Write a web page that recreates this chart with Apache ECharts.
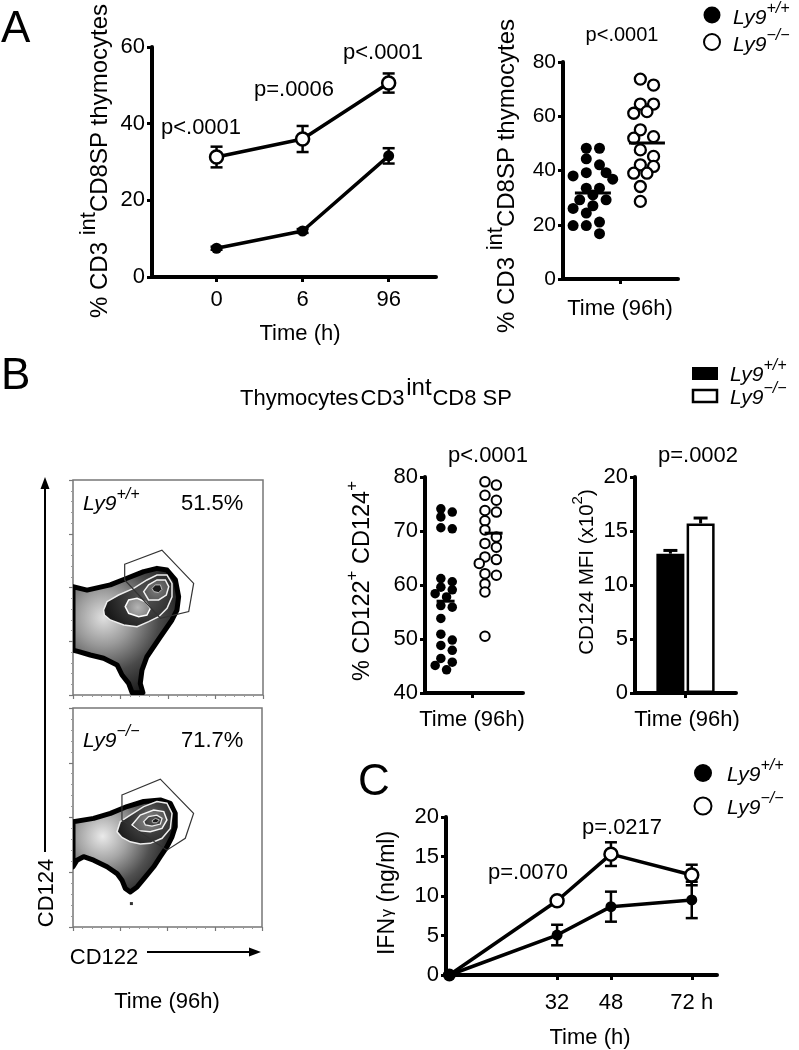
<!DOCTYPE html>
<html><head><meta charset="utf-8">
<script src="https://cdn.jsdelivr.net/npm/echarts@6/dist/echarts.min.js"></script>
<style>html,body{margin:0;padding:0;background:#fff}#c{width:799px;height:1050px}</style>
</head><body><div id="c"></div>
<script>
// ---------- DATA ----------
// Panel A left: % CD3int CD8SP thymocytes over time
const aTimeLabels = ['0', '6', '96'];
const aWTMean = [7.5, 12.0, 31.6];
const aWTErr = [0.4, 0.5, 2.0];
const aKOMean = [31.3, 36.0, 50.6];
const aKOErr = [2.7, 3.4, 2.5];
const aPValues = ['p<.0001', 'p=.0006', 'p<.0001'];
// Panel A right: individual mice at 96h
const a96WT = [48.2, 48.2, 44.3, 42.1, 39.2, 39.2, 38, 36.8, 33.5, 33.5, 31, 29.2, 29.2, 27, 26, 24.3, 21, 19.7, 19.7, 16.7];
const a96KO = [73.7, 71.5, 64.5, 64.5, 61.7, 61.1, 55, 52.5, 51.9, 47.6, 45.2, 42.1, 41.5, 39, 39, 34.1, 28.6];
const a96Means = [31.7, 50.1];
const a96P = 'p<.0001';
// Panel B scatter: % CD122+ CD124+
const bWT = [74.1, 73.5, 72.6, 70.6, 70.4, 61.2, 60.6, 59.6, 59.1, 58.4, 57.8, 56.2, 55.9, 53.8, 50.9, 49.8, 48.8, 47.9, 46.4, 45.7, 45.1, 44.3];
const bKO = [79.1, 78.5, 76.6, 75.7, 73.8, 73.5, 71.9, 70.2, 68.9, 67.7, 67.0, 65.2, 64.7, 64.0, 62.1, 61.8, 60.2, 58.7, 50.5];
const bMeans = [57.0, 69.6];
const bScatterP = 'p<.0001';
// Panel B bars: CD124 MFI (x10^2)
const bBarGroups = ['Ly9+/+', 'Ly9-/-'];
const bBarValues = [12.9, 15.7];
const bBarErr = [0.3, 0.5];
const bBarP = 'p=.0002';
// Panel B flow plots: percentages and contour outlines (plot units 0-100)
const flowPercents = ['51.5%', '71.7%'];
const flowTopBlob = [[0,50.4],[7.4,48.8],[19.6,51.2],[28.4,54.3],[37.2,57.4],[44.2,58.9],[49.5,58.1],[53.9,53.5],[55.6,45.7],[54.7,39.5],[52.1,34.9],[46,27.1],[38.9,17.8],[36.3,11.6],[35.4,5.4],[36.8,1.1],[31.1,1.1],[29.3,5.4],[25.8,9.3],[23.2,14],[16.1,17.1],[9.1,18.6],[3,20.2],[0,20.9]];
const flowTopRingA = [[16.1,39.5],[17.9,43.4],[24,46.5],[31.9,49.6],[38.9,53.5],[44.2,55.8],[49.5,55.8],[52.1,51.9],[52.1,45.7],[49.5,40.3],[45.1,36.4],[39.8,34.1],[33.7,31.8],[26.7,32.6],[19.6,34.9],[16.5,37.2]];
const flowTopRingB = [[27.5,41.1],[29.3,44.2],[33.7,45],[38.1,43.4],[40.7,40.3],[38.9,37.2],[34.6,36.4],[29.3,38]];
const flowTopRingC = [[37.2,48.1],[39.8,51.2],[44.2,53.5],[48.6,53.5],[50.4,50.4],[49.1,46.5],[45.1,44.2],[39.8,44.2]];
const flowTopRingD = [[41.6,49.6],[43.3,51.2],[46,51.2],[46.8,49.1],[45.1,47.6],[42.5,48.1]];
const flowTopGate = [[27.2,60.8],[46.8,67.4],[63.5,51.9],[60.9,38.8],[46,35.7],[27.2,53.5]];
const flowBotBlob = [[0,48.1],[10.9,49.6],[19.8,51.9],[28.6,55],[37.4,57.3],[46.2,58],[51.5,56.5],[54.1,51.9],[54.1,45.8],[52.4,41.2],[49.7,36.6],[46.2,32.1],[42.7,27.5],[38.3,22.9],[33.9,18.3],[30.3,16],[27.7,17.6],[25.9,21.4],[23.3,24.4],[18,27.5],[10.9,30.5],[5.6,32.1],[2.1,30.5],[0,27.5]];
const flowBotRingA = [[23.3,43.5],[25,48.1],[30.3,51.1],[37.4,55],[44.4,57.3],[49.7,56.5],[52.4,51.9],[51.5,45],[47.1,40.5],[40.9,38.2],[35.6,37.9],[30.3,38.9],[25.9,40.9]];
const flowBotRingB = [[31.2,46.6],[35.6,51.1],[42.7,53.4],[48,52.7],[49.7,48.9],[47.1,45],[40.9,43.5],[34.7,44]];
const flowBotRingC = [[37.4,48.1],[40,50.4],[44.4,51.1],[47.1,49.6],[46.2,47],[41.8,46.1],[38.3,46.6]];
const flowBotRingD = [[41.8,48.5],[43.6,49.6],[45.7,48.9],[44.4,47.6],[42.3,47.6]];
const flowBotGate = [[25.9,60.3],[46.2,67.5],[63.8,51.9],[59.4,40.5],[49.7,35.1],[25.9,48.9]];
const flowBotDots = [[30.9,10.7]];
// Panel C: IFN-gamma (ng/ml) over time
const cTimes = [0, 32, 48, 72];
const cTickValues = [32, 48, 72];
const cTickLabels = ['32', '48', '72 h'];
const cWTMean = [0, 5.06, 8.65, 9.5];
const cWTErr = [0, 1.3, 1.9, 2.3];
const cKOMean = [0, 9.4, 15.3, 12.66];
const cKOErr = [0, 0.3, 1.5, 1.3];
const cPValues = ['p=.0070', 'p=.0217'];

// ---------- HELPERS ----------
const FONT = '"Liberation Sans", Arial, Helvetica, sans-serif';
const mctx = document.createElement('canvas').getContext('2d');
function tw(t, s, it) { mctx.font = (it ? 'italic ' : '') + s + 'px ' + FONT; return mctx.measureText(t).width; }
// parts: [text, size, dy, italic]
function rt(x, y, parts, opt) {
  opt = opt || {};
  const total = parts.reduce((a, p) => a + tw(p[0], p[1], p[3]), 0);
  let cx = opt.align === 'left' ? 0 : (opt.align === 'right' ? -total : -total / 2);
  const children = parts.map(p => {
    const el = { type: 'text', x: cx, y: p[2] || 0, style: { text: p[0], fontSize: p[1], fontFamily: FONT, fontStyle: p[3] ? 'italic' : 'normal', fill: '#000', align: 'left', verticalAlign: 'middle' } };
    cx += tw(p[0], p[1], p[3]);
    return el;
  });
  return { type: 'group', x: x, y: y, rotation: opt.rot || 0, children: children };
}
const ROT = Math.PI / 2;

function yAx(gi, min, max, interval, fs) {
  return { type: 'value', gridIndex: gi, min: min, max: max, interval: interval,
    axisLine: { show: true, onZero: false, lineStyle: { color: '#000', width: 4 } },
    axisTick: { show: true, length: 5, lineStyle: { color: '#000', width: 3 } },
    axisLabel: { fontSize: fs, color: '#000', fontFamily: FONT, margin: 7 },
    splitLine: { show: false } };
}
function xAxVal(gi, min, max, tickVals, labelVals, fmt, margin, fs) {
  return { type: 'value', gridIndex: gi, min: min, max: max,
    axisLine: { show: true, onZero: false, lineStyle: { color: '#000', width: 4 } },
    axisTick: { show: true, length: 5, customValues: tickVals, lineStyle: { color: '#000', width: 3 } },
    axisLabel: { show: !!labelVals, customValues: labelVals || [], formatter: fmt, fontSize: fs || 22, color: '#000', fontFamily: FONT, margin: margin || 10 },
    splitLine: { show: false } };
}
function errSeries(gi, xs, means, errs, cap, lw, z) {
  return { type: 'custom', xAxisIndex: gi, yAxisIndex: gi, z: z, silent: true, clip: false,
    data: xs.map((x, i) => [x, means[i], errs[i]]),
    renderItem: function (params, api) {
      const x = api.value(0), m = api.value(1), e = api.value(2);
      if (!e) return null;
      const t = api.coord([x, m + e]), b = api.coord([x, m - e]);
      const s = { stroke: '#000', lineWidth: lw };
      return { type: 'group', children: [
        { type: 'line', shape: { x1: t[0], y1: t[1], x2: b[0], y2: b[1] }, style: s },
        { type: 'line', shape: { x1: t[0] - cap, y1: t[1], x2: t[0] + cap, y2: t[1] }, style: s },
        { type: 'line', shape: { x1: b[0] - cap, y1: b[1], x2: b[0] + cap, y2: b[1] }, style: s }] };
    } };
}
function meanSeries(gi, xs, means, halfW, lw) {
  return { type: 'custom', xAxisIndex: gi, yAxisIndex: gi, z: 5, silent: true, clip: false,
    data: xs.map((x, i) => [x, means[i]]),
    renderItem: function (params, api) {
      const p = api.coord([api.value(0), api.value(1)]);
      return { type: 'line', shape: { x1: p[0] - halfW, y1: p[1], x2: p[0] + halfW, y2: p[1] }, style: { stroke: '#000', lineWidth: lw } };
    } };
}
// simple deterministic two-column beeswarm layout for dot plots
function swarm(values, center, pxX, pxY, size) {
  const placed = [];
  const st = size * 0.6;
  const c = [-st, st, 0, -2 * st, 2 * st, -3 * st, 3 * st];
  return values.map(v => {
    const y = v * pxY;
    let off = c[c.length - 1];
    for (const o of c) { if (placed.every(p => Math.hypot(p[0] - o, p[1] - y) >= size * 0.85)) { off = o; break; } }
    placed.push([off, y]);
    return [center + off / pxX, v];
  });
}
function flowSeries(gi, shapes) {
  return { type: 'custom', xAxisIndex: gi, yAxisIndex: gi, silent: true, clip: true,
    data: shapes.map((s, i) => [i, 0]),
    renderItem: function (params, api) {
      const s = shapes[params.dataIndex];
      const pts = s.pts.map(p => api.coord(p));
      if (s.dot) return { type: 'rect', shape: { x: pts[0][0] - 1.5, y: pts[0][1] - 1.5, width: 3, height: 3 }, style: { fill: '#333' } };
      return { type: 'polygon', shape: { points: pts }, style: s.style };
    } };
}
function radial(cx, cy, stops) { return { type: 'radial', x: cx, y: cy, r: 0.75, colorStops: stops.map((c, i) => ({ offset: i / (stops.length - 1), color: c })), global: false }; }
const flowTopShapes = [
  { pts: flowTopBlob, style: { fill: radial(0.3, 0.4, ['#e0e0e0', '#9a9a9a', '#4a4a4a', '#1a1a1a']), stroke: '#000', lineWidth: 5, lineJoin: 'round' } },
  { pts: flowTopRingA, style: { fill: radial(0.6, 0.4, ['#555', '#3a3a3a', '#1a1a1a']), stroke: '#eeeeee', lineWidth: 1.5 } },
  { pts: flowTopRingB, style: { fill: radial(0.5, 0.5, ['#b5b5b5', '#777']), stroke: '#ffffff', lineWidth: 1.5 } },
  { pts: flowTopRingC, style: { fill: radial(0.5, 0.5, ['#7a7a7a', '#4a4a4a']), stroke: '#f2f2f2', lineWidth: 1.5 } },
  { pts: flowTopRingD, style: { fill: '#1a1a1a', stroke: '#bbbbbb', lineWidth: 1 } },
  { pts: flowTopGate, style: { fill: 'none', stroke: '#333', lineWidth: 1.2 } }
];
const flowBotShapes = [
  { pts: flowBotBlob, style: { fill: radial(0.3, 0.4, ['#eaeaea', '#a5a5a5', '#505050', '#1a1a1a']), stroke: '#000', lineWidth: 5, lineJoin: 'round' } },
  { pts: flowBotRingA, style: { fill: radial(0.6, 0.4, ['#6a6a6a', '#3c3c3c', '#1e1e1e']), stroke: '#eeeeee', lineWidth: 1.5 } },
  { pts: flowBotRingB, style: { fill: radial(0.5, 0.5, ['#888', '#555']), stroke: '#f5f5f5', lineWidth: 1.5 } },
  { pts: flowBotRingC, style: { fill: radial(0.5, 0.5, ['#555', '#333']), stroke: '#eeeeee', lineWidth: 1.3 } },
  { pts: flowBotRingD, style: { fill: '#1a1a1a', stroke: '#bbbbbb', lineWidth: 1 } },
  { pts: flowBotGate, style: { fill: 'none', stroke: '#333', lineWidth: 1.2 } },
  { pts: flowBotDots, dot: true }
];
function flowAxes(gi) {
  const common = { type: 'value', gridIndex: gi, min: 0, max: 100, interval: 25,
    axisLine: { show: false }, axisLabel: { show: false }, splitLine: { show: false },
    axisTick: { show: true, length: 4, lineStyle: { color: '#777', width: 1.2 } },
    minorTick: { show: true, splitNumber: 5, length: 2, lineStyle: { color: '#999', width: 1 } } };
  return [Object.assign({}, common), Object.assign({}, common)];
}
const fTop = flowAxes(2), fBot = flowAxes(3);

// ---------- LAYOUT (grids) ----------
const grids = [
  { left: 152, top: 47, width: 284, height: 230 },   // 0 A left
  { left: 563, top: 62, width: 115, height: 217 },   // 1 A right
  { left: 73, top: 480, width: 190, height: 215, show: true, borderColor: '#777', borderWidth: 1.5 }, // 2 flow top
  { left: 73, top: 708, width: 189, height: 219, show: true, borderColor: '#777', borderWidth: 1.5 }, // 3 flow bottom
  { left: 425, top: 477, width: 98, height: 216 },   // 4 B scatter
  { left: 635, top: 477, width: 101, height: 216 },  // 5 B bars
  { left: 446, top: 817, width: 271, height: 158 }   // 6 C
];

const xAxes = [
  xAxVal(0, -0.75, 2.55, [0, 1, 2], [0, 1, 2], v => aTimeLabels[Math.round(v)], 12),
  xAxVal(1, 0, 1, [0.5], null),
  fTop[0], fBot[0],
  xAxVal(4, 0, 1, [0.48], null),
  { type: 'category', gridIndex: 5, data: ['96h'], axisLine: { lineStyle: { color: '#000', width: 4 } },
    axisTick: { show: true, alignWithLabel: true, length: 5, lineStyle: { color: '#000', width: 3 } }, axisLabel: { show: false } },
  xAxVal(6, -1, 79.5, cTickValues, cTickValues, v => cTickLabels[cTickValues.indexOf(v)], 17)
];
const yAxes = [
  yAx(0, 0, 60, 20, 22),
  yAx(1, 0, 80, 20, 21),
  fTop[1], fBot[1],
  yAx(4, 40, 80, 10, 22),
  yAx(5, 0, 20, 5, 22),
  yAx(6, 0, 20, 5, 22)
];

const openStyle = { color: '#fff', borderColor: '#000', borderWidth: 2.5, opacity: 1 };
const fillStyle = { color: '#000', opacity: 1 };

const series = [
  // A left
  errSeries(0, [0, 1, 2], aWTMean, aWTErr, 6, 2.5, 2),
  errSeries(0, [0, 1, 2], aKOMean, aKOErr, 6, 2.5, 2),
  { type: 'line', name: 'Ly9+/+', xAxisIndex: 0, yAxisIndex: 0, z: 3, data: aWTMean.map((v, i) => [i, v]), symbol: 'circle', symbolSize: 11, lineStyle: { color: '#000', width: 3.5 }, itemStyle: fillStyle },
  { type: 'line', name: 'Ly9-/-', xAxisIndex: 0, yAxisIndex: 0, z: 3, data: aKOMean.map((v, i) => [i, v]), symbol: 'circle', symbolSize: 13, lineStyle: { color: '#000', width: 3.5 }, itemStyle: openStyle },
  // A right
  { type: 'scatter', xAxisIndex: 1, yAxisIndex: 1, z: 3, data: swarm(a96WT, 0.26, 115, 217 / 80, 11), symbolSize: 11, itemStyle: fillStyle },
  { type: 'scatter', xAxisIndex: 1, yAxisIndex: 1, z: 3, data: swarm(a96KO, 0.73, 115, 217 / 80, 11), symbolSize: 11, itemStyle: { color: '#fff', borderColor: '#000', borderWidth: 2.3, opacity: 1 } },
  meanSeries(1, [0.26, 0.73], a96Means, 18, 3),
  // flow plots
  flowSeries(2, flowTopShapes),
  flowSeries(3, flowBotShapes),
  // B scatter
  { type: 'scatter', xAxisIndex: 4, yAxisIndex: 4, z: 3, data: swarm(bWT, 0.22, 98, 216 / 40, 9.5), symbolSize: 9.5, itemStyle: fillStyle },
  { type: 'scatter', xAxisIndex: 4, yAxisIndex: 4, z: 3, data: swarm(bKO, 0.67, 98, 216 / 40, 9.5), symbolSize: 9.5, itemStyle: { color: '#fff', borderColor: '#000', borderWidth: 2, opacity: 1 } },
  meanSeries(4, [0.21, 0.7], bMeans, 9, 3),
  // B bars
  { type: 'bar', name: bBarGroups[0], xAxisIndex: 5, yAxisIndex: 5, data: [bBarValues[0]], barWidth: 28, barGap: '8%', itemStyle: { color: '#000', borderColor: '#000', borderWidth: 2.5 } },
  { type: 'bar', name: bBarGroups[1], xAxisIndex: 5, yAxisIndex: 5, data: [bBarValues[1]], barWidth: 28, itemStyle: { color: '#fff', borderColor: '#000', borderWidth: 2.5 } },
  { type: 'custom', xAxisIndex: 5, yAxisIndex: 5, z: 1, silent: true, clip: false,
    data: bBarValues.map((v, i) => [0, v, bBarErr[i], i]),
    renderItem: function (params, api) {
      const idx = api.value(3);
      const off = idx === 0 ? -15.1 : 15.1;
      const t = api.coord([0, api.value(1) + api.value(2)]), b = api.coord([0, api.value(1)]);
      const x = t[0] + off, s = { stroke: '#000', lineWidth: 3 };
      return { type: 'group', children: [
        { type: 'line', shape: { x1: x, y1: t[1], x2: x, y2: b[1] }, style: s },
        { type: 'line', shape: { x1: x - 7, y1: t[1], x2: x + 7, y2: t[1] }, style: s }] };
    } },
  // C
  errSeries(6, cTimes, cWTMean, cWTErr, 6, 2.5, 2),
  errSeries(6, cTimes, cKOMean, cKOErr, 6, 2.5, 2),
  { type: 'line', name: 'Ly9+/+', xAxisIndex: 6, yAxisIndex: 6, z: 3, data: cWTMean.map((v, i) => [cTimes[i], v]), symbol: 'circle', symbolSize: 11, lineStyle: { color: '#000', width: 3.5 }, itemStyle: fillStyle },
  { type: 'line', name: 'Ly9-/-', xAxisIndex: 6, yAxisIndex: 6, z: 4, data: cKOMean.map((v, i) => i === 0 ? { value: [cTimes[i], v], symbolSize: 0 } : [cTimes[i], v]), symbol: 'circle', symbolSize: 13, lineStyle: { color: '#000', width: 3.5 }, itemStyle: openStyle },
  { type: 'scatter', xAxisIndex: 6, yAxisIndex: 6, z: 5, data: [[cTimes[0], cWTMean[0]]], symbolSize: 13, itemStyle: fillStyle }
];

// ---------- TEXT / DECORATION ----------
const g = [];
const SUPPM = '\u2212/\u2212';
// panel letters
g.push(rt(1, 30, [['A', 44, 0]], { align: 'left' }));
g.push(rt(1, 377, [['B', 44, 0]], { align: 'left' }));
g.push(rt(358, 783, [['C', 44, 0]], { align: 'left' }));
// A left
g.push(rt(100, 161, [['% CD3 ', 24, 0], ['int', 22, -11], ['CD8SP thymocytes', 24, 0]], { rot: ROT }));
g.push(rt(201, 128, [[aPValues[0], 22, 0]]));
g.push(rt(294, 90, [[aPValues[1], 22, 0]]));
g.push(rt(383, 53, [[aPValues[2], 22, 0]]));
g.push(rt(300, 334, [['Time (h)', 22, 0]]));
// A right
g.push(rt(507, 176, [['% CD3 ', 24, 0], ['int', 22, -11], ['CD8SP thymocytes', 24, 0]], { rot: ROT }));
g.push(rt(622, 35, [[a96P, 20, 0]]));
g.push(rt(620, 309, [['Time (96h)', 22, 0]]));
// legend A
g.push({ type: 'circle', shape: { cx: 712, cy: 15, r: 8.5 }, style: { fill: '#000' } });
g.push({ type: 'circle', shape: { cx: 712, cy: 42, r: 8 }, style: { fill: '#fff', stroke: '#000', lineWidth: 2 } });
g.push(rt(733, 18, [['Ly9', 21, 0, true], ['+/+', 16, -9, true]], { align: 'left' }));
g.push(rt(733, 45, [['Ly9', 21, 0, true], [SUPPM, 16, -9, true]], { align: 'left' }));
// B title
g.push(rt(240, 399, [['Thymocytes', 22, 0], [' ', 7, 0], ['CD3', 22, 0], [' ', 6, 0], ['int', 24, -11], [' ', 3, 0], ['CD8 SP', 22, 0]], { align: 'left' }));
// legend B
g.push({ type: 'rect', shape: { x: 692, y: 367, width: 26, height: 13 }, style: { fill: '#000' } });
g.push({ type: 'rect', shape: { x: 693, y: 390, width: 24, height: 12 }, style: { fill: '#fff', stroke: '#000', lineWidth: 2.5 } });
g.push(rt(730, 375, [['Ly9', 21, 0, true], ['+/+', 16, -9, true]], { align: 'left' }));
g.push(rt(730, 398, [['Ly9', 21, 0, true], [SUPPM, 16, -9, true]], { align: 'left' }));
// flow texts
g.push(rt(83, 504, [['Ly9', 21, 0, true], ['+/+', 16, -9, true]], { align: 'left' }));
g.push(rt(181, 504, [[flowPercents[0], 22, 0]], { align: 'left' }));
g.push(rt(83, 741, [['Ly9', 21, 0, true], [SUPPM, 16, -9, true]], { align: 'left' }));
g.push(rt(181, 741, [[flowPercents[1], 22, 0]], { align: 'left' }));
g.push({ type: 'line', shape: { x1: 45, y1: 852, x2: 45, y2: 486 }, style: { stroke: '#000', lineWidth: 2 } });
g.push({ type: 'polygon', shape: { points: [[45, 477], [40.5, 489], [49.5, 489]] }, style: { fill: '#000' } });
g.push(rt(47, 893, [['CD124', 22, 0]], { rot: ROT }));
g.push(rt(104, 958, [['CD122', 22, 0]]));
g.push({ type: 'line', shape: { x1: 147, y1: 952, x2: 252, y2: 952 }, style: { stroke: '#000', lineWidth: 2 } });
g.push({ type: 'polygon', shape: { points: [[261, 952], [249, 947.5], [249, 956.5]] }, style: { fill: '#000' } });
g.push(rt(167, 1002, [['Time (96h)', 22, 0]]));
// B scatter + bars
g.push(rt(363, 581, [['% CD122', 23.5, 0], ['+', 17, -11], [' CD124', 23.5, 0], ['+', 17, -11]], { rot: ROT }));
g.push(rt(488, 456, [[bScatterP, 22, 0]]));
g.push(rt(472, 720, [['Time (96h)', 22, 0]]));
g.push(rt(587, 572, [['CD124 MFI (x10', 20.5, 0], ['2', 15, -9], [')', 20.5, 0]], { rot: ROT }));
g.push(rt(698, 456, [[bBarP, 22, 0]]));
g.push(rt(687, 720, [['Time (96h)', 22, 0]]));
// C
g.push(rt(388, 893, [['IFN', 23, 0], [' ', 4, 0], ['\u03b3', 16, 0], [' (ng/ml)', 23, 0]], { rot: ROT }));
g.push(rt(528, 873, [[cPValues[0], 22, 0]]));
g.push(rt(622, 828, [[cPValues[1], 22, 0]]));
g.push(rt(590, 1038, [['Time (h)', 22, 0]]));
g.push({ type: 'circle', shape: { cx: 703, cy: 773, r: 9 }, style: { fill: '#000' } });
g.push({ type: 'circle', shape: { cx: 703, cy: 806, r: 8.5 }, style: { fill: '#fff', stroke: '#000', lineWidth: 2 } });
g.push(rt(727, 775, [['Ly9', 21, 0, true], ['+/+', 16, -9, true]], { align: 'left' }));
g.push(rt(727, 808, [['Ly9', 21, 0, true], [SUPPM, 16, -9, true]], { align: 'left' }));

const chart = echarts.init(document.getElementById('c'), null, { renderer: 'canvas' });
chart.setOption({
  animation: false,
  backgroundColor: '#fff',
  textStyle: { fontFamily: FONT },
  grid: grids,
  xAxis: xAxes,
  yAxis: yAxes,
  series: series,
  graphic: { elements: g }
});
</script>
</body></html>
